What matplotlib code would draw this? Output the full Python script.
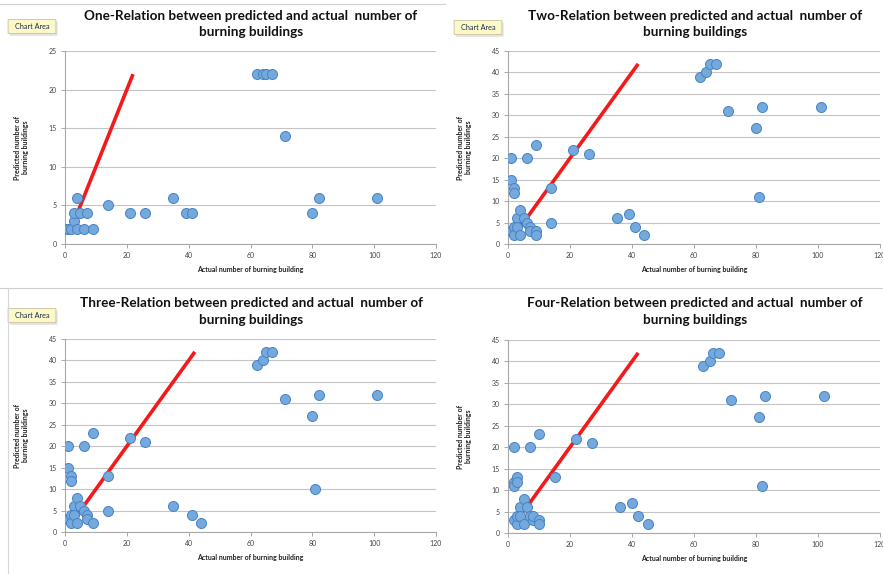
import matplotlib
matplotlib.use("Agg")
import matplotlib.pyplot as plt
from matplotlib.patches import FancyBboxPatch
from matplotlib.lines import Line2D

plt.rcParams['font.family'] = ['Lato', 'DejaVu Sans']

W, H = 883, 574

# actual vs predicted counts for the four runs
x_one = [0.5, 1, 2, 3, 3, 4, 4, 5, 6, 7, 9, 14, 21, 26, 35, 39, 41, 62, 64, 65, 67, 71, 80, 82, 101]
y_one = [2, 2, 2, 3, 4, 6, 2, 4, 2, 4, 2, 5, 4, 4, 6, 4, 4, 22, 22, 22, 22, 14, 4, 6, 6]

x_two = [1, 1, 1, 2, 2, 2, 2, 3, 3, 4, 4, 5, 6, 6, 7, 7, 9, 9, 9, 14, 14, 21, 26, 35, 39, 41, 44,
         62, 64, 65, 67, 71, 80, 81, 82, 101]
y_two = [20, 15, 3, 13, 12, 4, 2, 6, 4, 8, 2, 6, 5, 20, 4, 3, 23, 3, 2, 13, 5, 22, 21, 6, 7, 4, 2,
         39, 40, 42, 42, 31, 27, 11, 32, 32]

x_three = [1, 1, 1, 2, 2, 2, 2, 3, 3, 4, 4, 5, 6, 6, 7, 7, 9, 9, 14, 14, 21, 26, 35, 41, 44,
           62, 64, 65, 67, 71, 80, 81, 82, 101]
y_three = [20, 15, 3, 13, 12, 4, 2, 6, 4, 8, 2, 6, 5, 20, 4, 3, 2, 23, 13, 5, 22, 21, 6, 4, 2,
           39, 40, 42, 42, 31, 27, 10, 32, 32]

x_four = [2, 2, 2, 2, 3, 3, 3, 3, 4, 4, 5, 5, 6, 7, 7, 8, 8, 10, 10, 10, 15, 22, 27, 36, 40, 42, 45,
          63, 65, 66, 68, 72, 81, 82, 83, 102]
y_four = [20, 12, 11, 3, 13, 12, 2, 4, 6, 4, 8, 2, 6, 4, 20, 3, 4, 3, 2, 23, 13, 22, 21, 6, 7, 4, 2,
          39, 40, 42, 42, 31, 27, 11, 32, 32]

# reference line endpoints (predicted == actual)
ref_one = [4, 22]
ref_two = [3, 42]
ref_three = [3, 42]
ref_four = [5, 42]

titles = ["One", "Two", "Three", "Four"]
title_tail = "-Relation between predicted and actual  number of\nburning buildings"
x_label = "Actual number of burning building"
y_label = "Predicted number of\nburning buildings"


def px(x, y):
    return x / W, 1 - y / H


def box(x0, y0, x1, y1):
    return [x0 / W, 1 - y1 / H, (x1 - x0) / W, (y1 - y0) / H]


fig = plt.figure(figsize=(W / 100, H / 100), dpi=100)

panels = [
    (box(65, 51, 436, 244), x_one, y_one, ref_one, 25, 5, (251, 10), (9, 20)),
    (box(508, 51, 880, 244), x_two, y_two, ref_two, 45, 5, (695, 10), (455, 21)),
    (box(65, 339, 436, 532), x_three, y_three, ref_three, 45, 5, (251, 297), (9, 309)),
    (box(508, 340, 880, 533), x_four, y_four, ref_four, 45, 5, (695, 297), None),
]

for i, (rect, xs, ys, ref, ytop, ystep, tpos, tag) in enumerate(panels):
    ax = fig.add_axes(rect)
    ax.set_xlim(0, 120)
    ax.set_ylim(0, ytop)
    ax.set_xticks(range(0, 121, 20))
    ax.set_yticks(range(0, ytop + 1, ystep))
    ax.grid(axis='y', color='#c4c4c4', linewidth=0.8)
    ax.set_axisbelow(True)
    for s in ['top', 'right']:
        ax.spines[s].set_visible(False)
    for s in ['left', 'bottom']:
        ax.spines[s].set_color('#a8a8a8')
        ax.spines[s].set_linewidth(0.8)
    ax.tick_params(labelsize=5, colors='#a8a8a8', labelcolor='#444444', length=3, width=0.7, pad=3)

    ax.plot(ref, ref, color='#f21a1a', linewidth=2.6, solid_capstyle='butt', zorder=2)
    ax.scatter(xs, ys, s=52, facecolor='#74a9dd', edgecolor='#4a82c3', linewidth=0.7, zorder=3)

    ax.set_xlabel(x_label, fontsize=5, fontweight='bold', color='#222222', labelpad=5)
    ax.set_ylabel(y_label, fontsize=5, fontweight='bold', color='#222222', labelpad=14)

    tx, ty = px(*tpos)
    fig.text(tx, ty, titles[i] + title_tail, ha='center', va='top', fontsize=9.7,
             fontweight='bold', color='#111111', linespacing=1.45)

    if tag is not None:
        x0, y0 = tag
        bx, by = px(x0, y0 + 13)
        fig.patches.append(FancyBboxPatch((bx + 0.002, by - 0.004), 46 / W, 13 / H,
                                          boxstyle='round,pad=0.001', transform=fig.transFigure,
                                          facecolor='#d8d8d8', edgecolor='none', alpha=0.7))
        fig.patches.append(FancyBboxPatch((bx, by), 46 / W, 13 / H,
                                          boxstyle='round,pad=0.001', transform=fig.transFigure,
                                          facecolor='#fcf9c8', edgecolor='#c9c39a', linewidth=0.6))
        cx, cy = px(x0 + 23, y0 + 6.5)
        fig.text(cx, cy, "Chart Area", ha='center', va='center', fontsize=5.2, color='#1b2a4a')

# frame lines between the charts
fig.add_artist(Line2D([0, 445 / W], [1 - 4 / H] * 2, color='#cfcfcf', linewidth=0.8))
fig.add_artist(Line2D([0, 1], [1 - 288 / H] * 2, color='#cfcfcf', linewidth=0.8))
fig.add_artist(Line2D([8 / W] * 2, [0, 1 - 288 / H], color='#d8d8d8', linewidth=0.8))

fig.savefig("out.png", dpi=100)
